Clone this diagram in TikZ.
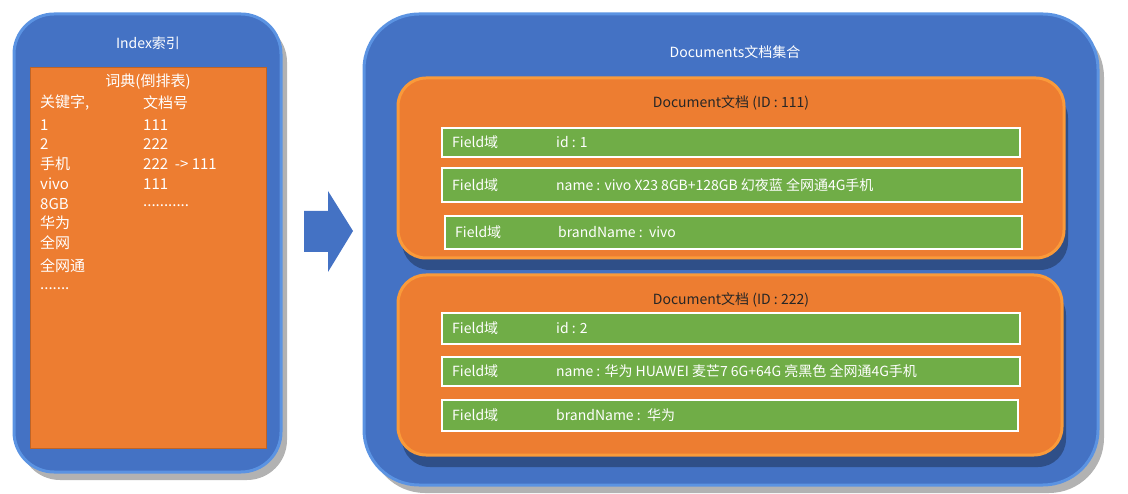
\documentclass[tikz,border=0pt]{standalone}
\usepackage{fontspec}
\setmainfont{Noto Sans CJK SC}
\usetikzlibrary{shadows,positioning}
\definecolor{boxblue}{HTML}{4472C4}
\definecolor{rimblue}{HTML}{5B93E2}
\definecolor{docorange}{HTML}{ED7D31}
\definecolor{rimorange}{HTML}{FA9A3A}
\definecolor{fieldgreen}{HTML}{70AD47}
\tikzset{
  outerbox/.style={rounded corners=#1, fill=boxblue, draw=rimblue, line width=3pt,
    drop shadow={shadow xshift=6pt, shadow yshift=-8pt, opacity=.3, fill=black}},
  docbox/.style={rounded corners=28pt, fill=docorange, draw=rimorange, line width=3pt,
    drop shadow={shadow xshift=4pt, shadow yshift=-12pt, opacity=.3, fill=black}},
  fieldbox/.style={fill=fieldgreen, draw=white, line width=1.5pt, anchor=west},
  wtxt/.style={text=white, font=\fontsize{14}{16}\selectfont, inner sep=0pt},
  ltxt/.style={text=white, font=\fontsize{15}{17}\selectfont, inner sep=0pt, anchor=west},
  dtxt/.style={text=black!85, font=\fontsize{14}{16}\selectfont, inner sep=0pt},
}
\begin{document}
\begin{tikzpicture}[x=1pt,y=-1pt]
  \useasboundingbox (0,0) rectangle (1128,494);
  % index side
  \node[outerbox=40pt, minimum width=267pt, minimum height=458pt] (index) at (147.5,243) {};
  \node[wtxt] (indextitle) at (148,43) {Index索引};
  \node[fill=docorange, draw=docorange!80!black, minimum width=236pt, minimum height=381pt] (dict) at (148,257.5) {};
  \node[ltxt, anchor=center] (dicttitle) at (148,82) {词典(倒排表)};
  \node[ltxt] (k0) at (40,103) {关键字,};
  \node[ltxt] (k1) at (40,125) {1};
  \node[ltxt] (k2) at (40,144) {2};
  \node[ltxt] (k3) at (40,164) {手机};
  \node[ltxt] (k4) at (40,184) {vivo};
  \node[ltxt] (k5) at (40,204) {8GB};
  \node[ltxt] (k6) at (40,223) {华为};
  \node[ltxt] (k7) at (40,243) {全网};
  \node[ltxt] (k8) at (40,266) {全网通};
  \node[ltxt] (k9) at (40,289) {.......};
  \node[ltxt] (d0) at (143,103) {文档号};
  \node[ltxt] (d1) at (143,125) {111};
  \node[ltxt] (d2) at (143,144) {222};
  \node[ltxt] (d3) at (143,164) {222\ \ -> 111};
  \node[ltxt] (d4) at (143,184) {111};
  \node[ltxt] (d5) at (143,206) {...........};
  % arrow
  \fill[boxblue] (304,211) -- (328,211) -- (328,191) -- (353,231) -- (328,272)
    -- (328,252) -- (304,252) -- cycle;
  % documents side
  \node[outerbox=55pt, minimum width=734pt, minimum height=471pt] (docs) at (731,249.5) {};
  \node[wtxt] (docstitle) at (735,52) {Documents文档集合};
  % document 111
  \node[docbox, minimum width=666pt, minimum height=180pt] (doca) at (731,168) {};
  \node[dtxt] (docatitle) at (731,103) {Document文档 (ID : 111)};
  \node[fieldbox, minimum width=578pt, minimum height=29pt] (fa1) at (441,142.5) {};
  \node[fieldbox, minimum width=580pt, minimum height=34pt] (fa2) at (441,185) {};
  \node[fieldbox, minimum width=577pt, minimum height=33pt] (fa3) at (444,232.5) {};
  \node[wtxt, anchor=west] at (452,142.5) (fa1k) {Field域};
  \node[wtxt, anchor=west] at (556,142.5) (fa1v) {id : 1};
  \node[wtxt, anchor=west] at (452,185) (fa2k) {Field域};
  \node[wtxt, anchor=west] at (556,185) (fa2v) {name : vivo X23 8GB+128GB 幻夜蓝 全网通4G手机};
  \node[wtxt, anchor=west] at (455,232.5) (fa3k) {Field域};
  \node[wtxt, anchor=west] at (558,232.5) (fa3v) {brandName :\ \ vivo};
  % document 222
  \node[docbox, minimum width=664pt, minimum height=180pt] (docb) at (730,365) {};
  \node[dtxt] (docbtitle) at (731,300) {Document文档 (ID : 222)};
  \node[fieldbox, minimum width=578pt, minimum height=31pt] (fb1) at (441,328.5) {};
  \node[fieldbox, minimum width=578pt, minimum height=29pt] (fb2) at (441,371.5) {};
  \node[fieldbox, minimum width=576pt, minimum height=31pt] (fb3) at (441,415.5) {};
  \node[wtxt, anchor=west] at (452,328.5) (fb1k) {Field域};
  \node[wtxt, anchor=west] at (556,328.5) (fb1v) {id : 2};
  \node[wtxt, anchor=west] at (452,371.5) (fb2k) {Field域};
  \node[wtxt, anchor=west] at (556,371.5) (fb2v) {name : 华为 HUAWEI 麦芒7 6G+64G 亮黑色 全网通4G手机};
  \node[wtxt, anchor=west] at (452,415.5) (fb3k) {Field域};
  \node[wtxt, anchor=west] at (556,415.5) (fb3v) {brandName :\ \ 华为};
\end{tikzpicture}
\end{document}
